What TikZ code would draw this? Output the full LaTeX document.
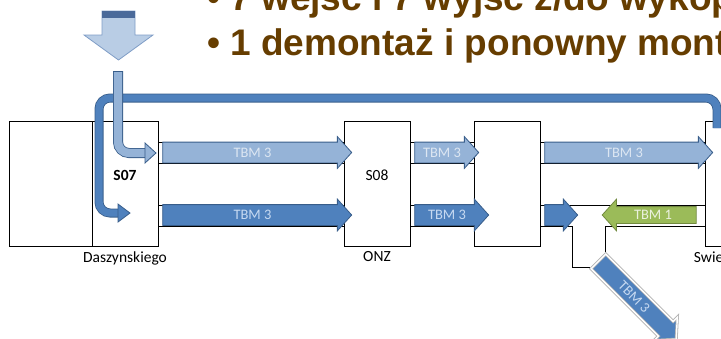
\documentclass[tikz,border=0pt]{standalone}
\usepackage{fontspec}
\setmainfont{Carlito}
\newfontfamily\titlefont{Liberation Sans}
\usetikzlibrary{shapes.arrows,positioning}
\definecolor{tbmfill}{HTML}{95B3D7}
\definecolor{tbmedge}{HTML}{385D8A}
\definecolor{tbmblue}{HTML}{4F81BD}
\definecolor{tbmgreen}{HTML}{9BBB59}
\definecolor{greenedge}{HTML}{71893F}
\definecolor{entryfill}{HTML}{B9CDE5}
\definecolor{entryedge}{HTML}{7F9DC6}
\definecolor{entryband}{HTML}{4A6A9A}
\definecolor{txtlight}{HTML}{DCE6F2}
\definecolor{txtdark}{HTML}{C6D9F1}
\definecolor{txtgreen}{HTML}{EBF1DE}
\definecolor{brown}{HTML}{663D00}

\begin{document}
\begin{tikzpicture}[x=1pt, y=-1pt,
  stn/.style={draw, line width=0.8pt, minimum width=66, minimum height=125, inner sep=0pt},
  lbl/.style={inner sep=0pt, font=\fontsize{15.5}{17}\selectfont},
  lblb/.style={inner sep=0pt, font=\fontsize{15.5}{17}\selectfont\bfseries},
  tun/.style={line width=0.8pt},
  tbm/.style={single arrow, line width=0.8pt, inner xsep=0pt, inner ysep=5.5pt,
    text height=9pt, text depth=0pt,
    single arrow head extend=5.5, single arrow tip angle=96,
    font=\fontsize{14.5}{15}\selectfont},
  tbml/.style={tbm, draw=tbmedge, fill=tbmfill, text=txtlight},
  tbmd/.style={tbm, draw=tbmedge, fill=tbmblue, text=txtdark},
  tbmg/.style={tbm, draw=greenedge, fill=tbmgreen, text=txtgreen, shape border rotate=180,
    inner ysep=3.5pt, single arrow head extend=7.5},
  bentl/.style={draw=tbmedge, line width=0.8pt, double=tbmfill, double distance=8.4pt, rounded corners=11},
  bentd/.style={draw=tbmedge, line width=0.8pt, double=tbmblue, double distance=7.4pt, rounded corners=11},
  title/.style={inner sep=0pt, text=brown, font=\titlefont\fontsize{37}{44}\selectfont\bfseries}]
\clip (0,0) rectangle (721,338);

% title lines
\node[title, anchor=base west] (t1) at (207,10) {\textbullet\ 7 wejść i 7 wyjść z/do wykop};
\node[title, anchor=base west] (t2) at (207,55) {\textbullet\ 1 demontaż i ponowny montaż};

% entry arrow
\filldraw[draw=entryedge, fill=entryfill, line width=0.8pt]
  (102,11) -- (135,11) -- (135,35) -- (153,35) -- (118.5,60) -- (84,35) -- (102,35) -- cycle;
\fill[entryband] (102,11) rectangle (135,18);

% stations
\node[stn, minimum width=83] (dz) at (50.5,183.5) {};
\node[stn] (s07) at (125,183.5) {};
\node[stn] (s08) at (377,183.5) {};
\node[stn] (k3) at (507,183.5) {};
\node[stn] (swi) at (738,183.5) {};
\node[lblb] at ([yshift=8.5pt]s07.center) {S07};
\node[lbl] at ([yshift=8.5pt]s08.center) {S08};
\node[lbl, below=5pt of s07] {Daszynskiego};
\node[lbl, below=5pt of s08] {ONZ};
\node[lbl, below=5pt of swi] {Swietokrzyska};

% tunnels
\foreach \y in {142,163,205,226} {
  \draw[tun] (s07.east |- 0,\y) -- (s08.west |- 0,\y);
  \draw[tun] (s08.east |- 0,\y) -- (k3.west |- 0,\y);
}
\foreach \y in {142,163,205}
  \draw[tun] (k3.east |- 0,\y) -- (swi.west |- 0,\y);
\draw[tun] (k3.east |- 0,226) -- (572,226) -- (572,267) -- (590,267);
\draw[tun] (swi.west |- 0,226) -- (605,226) -- (605,252);

% return and entry bends
\draw[bentd] (717,128) -- (717,98) -- (99,98) -- (99,213) -- (119,213);
\filldraw[draw=tbmedge, fill=tbmblue, line width=0.8pt] (118,204) -- (130,213) -- (118,222) -- cycle;
\draw[bentl] (118,71) -- (118,153) -- (146,153);
\draw[tbmedge, line width=0.8pt] (113.4,71) -- (122.6,71);
\filldraw[draw=tbmedge, fill=tbmfill, line width=0.8pt] (145,143) -- (156,153) -- (145,163) -- cycle;

% drives
\node[tbml, minimum height=189] (a1) at (252.5,152.5) {TBM 3};
\node[tbml, minimum height=64] (a2) at (442,152.5) {TBM 3};
\node[tbml, minimum height=168] (a3) at (624,152.5) {TBM 3};
\node[tbmd, minimum height=189] (b1) at (252.5,215) {TBM 3};
\node[tbmd, minimum height=74] (b2) at (447,215) {TBM 3};
\node[tbmd, minimum height=33] (b3) at (556.5,215) {};
\node[tbmg, minimum height=94] (g1) at (653,215) {TBM 1};
\node[tbmd, rotate=-45, minimum height=110, single arrow head extend=6,
  draw=gray!60, double=white, double distance=1.4pt] (d1) at (634,297) {TBM 3};
\end{tikzpicture}
\end{document}
